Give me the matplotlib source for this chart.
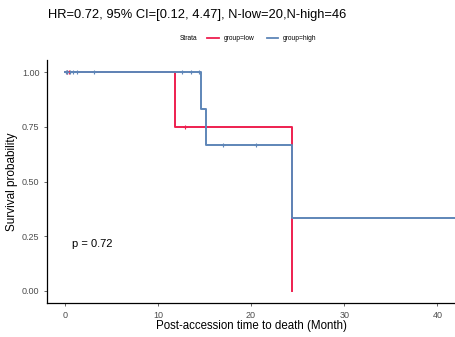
import numpy as np
import matplotlib.pyplot as plt

plt.rcParams['font.family'] = ['Liberation Sans', 'DejaVu Sans']

# Kaplan-Meier step data
low_times = [0, 11.8, 24.4]
low_surv = [1.0, 0.75, 0.0]
high_times = [0, 14.6, 15.2, 24.4, 45]
high_surv = [1.0, 0.833, 0.667, 0.333, 0.333]

# censor marks
low_cens_t = [0.2, 0.5, 12.9]
low_cens_s = [1.0, 1.0, 0.75]
high_cens_t = [0.1, 0.3, 0.6, 0.9, 1.3, 3.2, 12.6, 13.6, 14.4, 17.0, 20.5]
high_cens_s = [1.0, 1.0, 1.0, 1.0, 1.0, 1.0, 1.0, 1.0, 1.0, 0.667, 0.667]

xticks = [0, 10, 20, 30, 40]
yticks = [0.0, 0.25, 0.5, 0.75, 1.0]
ytick_labels = ['0.00', '0.25', '0.50', '0.75', '1.00']

red = '#EE1F4F'
blue = '#5E86B8'

fig = plt.figure(figsize=(4.56, 3.37), dpi=100)
ax = fig.add_axes([0.103, 0.101, 0.897, 0.72])

ax.step(low_times, low_surv, where='post', color=red, lw=1.4, zorder=3)
ax.step(high_times, high_surv, where='post', color=blue, lw=1.4, zorder=3)
ax.plot(low_cens_t, low_cens_s, '+', color=red, ms=3, mew=0.8, zorder=4)
ax.plot(high_cens_t, high_cens_s, '+', color=blue, ms=3, mew=0.8, zorder=4)

ax.set_xlim(-1.9, 42)
ax.set_ylim(-0.055, 1.055)
ax.set_xticks(xticks)
ax.set_yticks(yticks)
ax.set_yticklabels(ytick_labels)
ax.tick_params(labelsize=6.5, colors='#4d4d4d', length=2, width=0.6)
for s in ['top', 'right']:
    ax.spines[s].set_visible(False)
for s in ['left', 'bottom']:
    ax.spines[s].set_linewidth(0.9)

ax.set_xlabel('Post-accession time to death (Month)', fontsize=8.3, labelpad=0)
ax.set_ylabel('Survival probability', fontsize=8.5, labelpad=3)
ax.text(0.8, 0.2, 'p = 0.72', fontsize=8)

fig.text(0.105, 0.955, 'HR=0.72, 95% CI=[0.12, 4.47], N-low=20,N-high=46',
         fontsize=9.3, va='center')

# legend
ly = 0.887
fig.text(0.395, ly, 'Strata', fontsize=4.8, va='center')
fig.lines.append(plt.Line2D([0.455, 0.48], [ly, ly], color=red, lw=1.3,
                            transform=fig.transFigure))
fig.text(0.49, ly, 'group=low', fontsize=4.8, va='center')
fig.lines.append(plt.Line2D([0.585, 0.61], [ly, ly], color=blue, lw=1.3,
                            transform=fig.transFigure))
fig.text(0.62, ly, 'group=high', fontsize=4.8, va='center')

fig.savefig('out.png', dpi=100)
